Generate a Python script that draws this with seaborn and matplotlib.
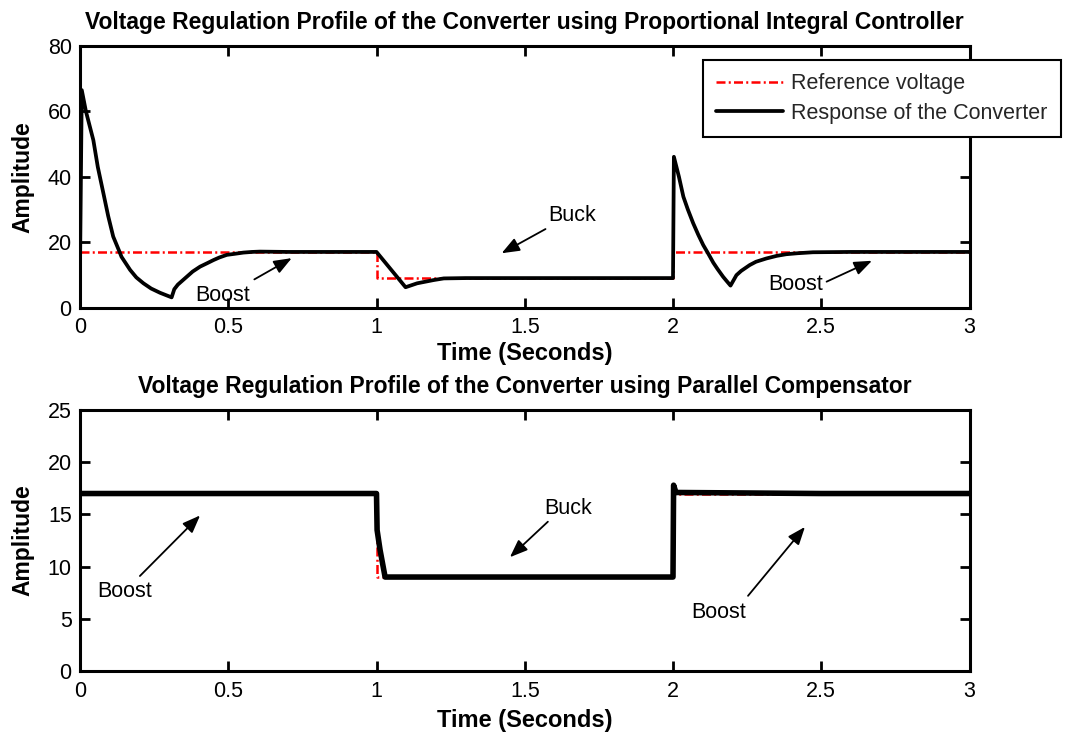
import numpy as np
import pandas as pd
import matplotlib
matplotlib.use("Agg")
import matplotlib.pyplot as plt
import seaborn as sns

# ---------------- data ----------------
ref_t = [0.0, 1.0, 1.0, 2.0, 2.0, 3.0]
ref_v = [17.0, 17.0, 9.0, 9.0, 17.0, 17.0]

pi_t = [0.0, 0.006, 0.02, 0.045, 0.06, 0.079, 0.095, 0.112, 0.133, 0.14, 0.169, 0.19,
        0.214, 0.24, 0.27, 0.309,
        0.318, 0.33, 0.36, 0.38, 0.405, 0.43, 0.45, 0.47, 0.495, 0.52, 0.551, 0.58,
        0.607, 0.7, 0.85, 1.0,
        1.098, 1.137, 1.193, 1.227, 1.3, 1.5, 1.75, 2.0,
        2.003, 2.02, 2.035, 2.05, 2.068, 2.085, 2.102, 2.12, 2.136, 2.15, 2.169,
        2.18, 2.194, 2.214, 2.23, 2.259, 2.28, 2.315, 2.35, 2.382, 2.42,
        2.472, 2.6, 2.8, 3.0]
pi_v = [12.0, 66.5, 60.0, 51.2, 43.0, 34.9, 28.0, 21.7, 17.1, 15.5, 11.5, 9.2,
        7.4, 5.8, 4.5, 3.1,
        5.6, 7.0, 9.4, 11.0, 12.5, 13.6, 14.5, 15.3, 16.1, 16.4, 16.8, 17.0,
        17.1, 17.0, 17.0, 17.0,
        6.2, 7.4, 8.4, 8.9, 9.0, 9.0, 9.0, 9.0,
        46.1, 40.0, 33.9, 30.0, 25.8, 22.3, 19.1, 16.3, 13.7, 11.8, 9.4,
        8.2, 6.7, 9.9, 11.2, 13.0, 14.0, 15.0, 15.8, 16.3, 16.6,
        16.9, 17.0, 17.0, 17.0]

pc_t = [0.0, 0.5, 1.0, 1.002, 1.012, 1.029, 1.5, 2.0, 2.002, 2.01, 2.5, 3.0]
pc_v = [17.0, 17.0, 17.0, 13.5, 11.6, 9.0, 9.0, 9.0, 17.8, 17.1, 17.0, 17.0]

x_ticks = [0, 0.5, 1, 1.5, 2, 2.5, 3]
x_ticklabels = ["0", "0.5", "1", "1.5", "2", "2.5", "3"]
top_yticks = [0, 20, 40, 60, 80]
bot_yticks = [0, 5, 10, 15, 20, 25]

title_top = "Voltage Regulation Profile of the Converter using Proportional Integral Controller"
title_bot = "Voltage Regulation Profile of the Converter using Parallel Compensator"
legend_labels = ["Reference voltage", "Response of the Converter"]

# annotations: (text, text_xy, arrow_tail_xy, arrow_tip_xy)
top_notes = [("Boost", (0.482, 3.8), (0.588, 8.6), (0.714, 15.1)),
             ("Buck", (1.66, 28.0), (1.57, 24.0), (1.422, 16.6)),
             ("Boost", (2.414, 7.1), (2.518, 7.9), (2.671, 14.3))]
bot_notes = [("Boost", (0.152, 7.6), (0.202, 9.1), (0.405, 14.9)),
             ("Buck", (1.646, 15.6), (1.578, 14.3), (1.45, 10.9)),
             ("Boost", (2.155, 5.65), (2.253, 7.2), (2.445, 13.8))]

# ---------------- style ----------------
sns.set_theme(style="white")
plt.rcParams['font.family'] = ['Liberation Sans', 'DejaVu Sans']
FS = 15.5
FS_T = 16.5
FS_X = 17

fig = plt.figure(figsize=(10.71, 7.40), dpi=100)
ax1 = fig.add_axes([80 / 1071, 1 - 307.5 / 740, 889.5 / 1071, 261.5 / 740])
ax2 = fig.add_axes([80 / 1071, 1 - 671 / 740, 889.5 / 1071, 261 / 740])

dash = (0, (3.6, 1.3, 0.8, 1.3))

def draw(ax, resp_t, resp_v, lw):
    sns.lineplot(x=ref_t, y=ref_v, ax=ax, color="#ff0000", linestyle=dash,
                 linewidth=1.8, estimator=None, sort=False, label=legend_labels[0])
    sns.lineplot(x=resp_t, y=resp_v, ax=ax, color="black", linewidth=lw,
                 estimator=None, sort=False, label=legend_labels[1])

draw(ax1, pi_t, pi_v, 2.7)
draw(ax2, pc_t, pc_v, 4.0)

for ax, yt, ylim, title, notes in [(ax1, top_yticks, (0, 80), title_top, top_notes),
                                   (ax2, bot_yticks, (0, 25), title_bot, bot_notes)]:
    ax.set_xlim(0, 3)
    ax.set_ylim(*ylim)
    ax.set_xticks(x_ticks)
    ax.set_xticklabels(x_ticklabels)
    ax.set_yticks(yt)
    ax.tick_params(axis='both', which='both', direction='in', length=7, width=2,
                   top=True, right=True, bottom=True, left=True,
                   labelsize=FS, colors='black', pad=6)
    ax.tick_params(axis='x', pad=7)
    for s in ax.spines.values():
        s.set_visible(True)
        s.set_linewidth(2.2)
        s.set_color('black')
    ax.set_xlabel("Time (Seconds)", fontsize=FS_X, fontweight='bold', color='black')
    ax.set_ylabel("Amplitude", fontsize=FS_T, fontweight='bold', color='black')
    ax.set_title(title, fontsize=FS_T, fontweight='bold', color='black', pad=12)
    for txt, txy, tail, tip in notes:
        ax.text(txy[0], txy[1], txt, fontsize=FS, ha='center', va='center', color='black')
        ax.annotate("", xy=tip, xytext=tail,
                    arrowprops=dict(arrowstyle="-|>,head_length=0.9,head_width=0.35",
                                    color='black', lw=1.3, shrinkA=0, shrinkB=0))

ax1.yaxis.set_label_coords(-0.051, 0.5)
ax2.yaxis.set_label_coords(-0.051, 0.5)
ax1.xaxis.set_label_coords(0.5, -0.133)
ax2.xaxis.set_label_coords(0.5, -0.145)

ax2.get_legend().remove()
handles, labels = ax1.get_legend_handles_labels()
ax1.get_legend().remove()
leg = ax1.legend(handles, labels, loc='upper right', bbox_to_anchor=(1.103, 0.9465),
                 borderaxespad=0, fontsize=FS, frameon=True, fancybox=False,
                 edgecolor='black', framealpha=1, handlelength=3.1, handletextpad=0.4,
                 borderpad=0.62, labelspacing=0.39)
leg.get_frame().set_linewidth(1.5)
leg.set_zorder(10)

fig.savefig("out.png", dpi=100, facecolor='white')
